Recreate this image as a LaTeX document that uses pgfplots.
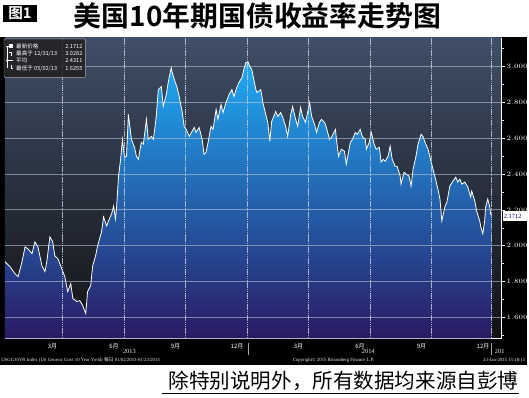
\documentclass[border=0pt]{standalone}
\usepackage{pgfplots}
\pgfplotsset{compat=1.18}
\usepackage{fontspec}
\setmainfont{Liberation Serif}
\newfontfamily\cjk{Noto Sans CJK SC}
\newfontfamily\cjkb{Noto Sans CJK SC Bold}
\definecolor{bgtop}{RGB}{63,78,103}
\definecolor{bgmid}{RGB}{37,40,46}
\definecolor{bgbot}{RGB}{18,18,20}
\definecolor{filltop}{RGB}{30,170,245}
\definecolor{fillmid}{RGB}{44,100,190}
\definecolor{fillbot}{RGB}{42,26,100}
\definecolor{gridc}{RGB}{200,208,225}
\tikzset{gridl/.style={draw=gridc, opacity=0.8, dash pattern=on 1.2pt off 0.45pt, line width=0.9pt},
  gridh/.style={draw=gridc, opacity=0.55, line width=0.75pt}}
\pgfplotstableread{
m v
0.18 1.911
0.43 1.883
0.67 1.844
0.82 1.828
1.01 1.911
1.16 1.994
1.30 1.983
1.50 1.956
1.64 2.022
1.79 1.994
1.98 1.889
2.13 1.856
2.22 1.911
2.37 2.050
2.51 2.022
2.61 1.944
2.76 1.928
2.95 1.872
3.10 1.828
3.24 1.744
3.39 1.789
3.49 1.706
3.68 1.689
3.83 1.694
3.97 1.667
4.12 1.622
4.21 1.744
4.36 1.778
4.46 1.889
4.60 1.944
4.70 2.000
4.89 2.078
4.99 2.161
5.14 2.111
5.23 2.139
5.38 2.178
5.48 2.222
5.57 2.150
5.62 2.206
5.72 2.389
5.82 2.483
5.91 2.594
6.01 2.494
6.11 2.500
6.20 2.733
6.35 2.594
6.50 2.550
6.59 2.500
6.69 2.483
6.83 2.578
6.93 2.567
7.08 2.706
7.17 2.594
7.32 2.611
7.42 2.594
7.56 2.722
7.66 2.872
7.81 2.889
7.90 2.778
8.05 2.844
8.15 2.917
8.29 2.994
8.34 2.967
8.49 2.911
8.58 2.883
8.68 2.833
8.83 2.744
8.92 2.667
9.02 2.650
9.17 2.611
9.31 2.639
9.41 2.661
9.50 2.633
9.65 2.661
9.80 2.594
9.89 2.511
9.99 2.522
10.09 2.578
10.23 2.667
10.33 2.650
10.48 2.761
10.57 2.706
10.72 2.789
10.82 2.744
10.96 2.800
11.11 2.844
11.25 2.872
11.35 2.833
11.45 2.872
11.59 2.911
11.74 2.939
11.83 2.983
11.93 3.022
12.03 3.028
12.13 3.000
12.22 2.983
12.32 2.928
12.42 2.872
12.47 2.856
12.66 2.872
12.76 2.800
12.90 2.733
13.00 2.689
13.10 2.583
13.19 2.694
13.39 2.750
13.49 2.722
13.63 2.744
13.73 2.717
13.87 2.667
13.97 2.611
14.12 2.733
14.21 2.778
14.36 2.706
14.46 2.667
14.60 2.772
14.70 2.722
14.84 2.689
14.94 2.744
15.04 2.800
15.14 2.722
15.28 2.678
15.38 2.633
15.52 2.689
15.62 2.706
15.77 2.689
15.86 2.661
16.01 2.594
16.11 2.606
16.30 2.650
16.35 2.594
16.45 2.500
16.59 2.539
16.74 2.528
16.83 2.456
17.03 2.578
17.13 2.594
17.27 2.633
17.37 2.622
17.51 2.650
17.61 2.611
17.76 2.594
17.81 2.539
17.95 2.578
18.05 2.633
18.19 2.567
18.29 2.539
18.44 2.550
18.53 2.467
18.63 2.483
18.73 2.472
18.87 2.500
18.97 2.556
19.07 2.483
19.21 2.444
19.31 2.444
19.46 2.389
19.50 2.344
19.65 2.411
19.75 2.400
19.89 2.389
19.99 2.333
20.09 2.428
20.23 2.500
20.33 2.567
20.48 2.622
20.57 2.611
20.67 2.578
20.82 2.539
20.96 2.472
21.06 2.428
21.16 2.383
21.30 2.317
21.40 2.261
21.49 2.139
21.64 2.217
21.74 2.244
21.88 2.333
22.03 2.361
22.17 2.383
22.27 2.356
22.37 2.372
22.47 2.344
22.61 2.356
22.76 2.328
22.90 2.272
22.95 2.306
23.10 2.250
23.19 2.194
23.34 2.139
23.39 2.106
23.49 2.067
23.58 2.139
23.63 2.217
23.73 2.261
23.83 2.217
23.87 2.178
23.92 2.171
}\yields
\begin{document}
\begin{tikzpicture}
\begin{scope}[x=0.75pt,y=-0.75pt]
\useasboundingbox (0,0) rectangle (529,399);
\fill[white] (0,0) rectangle (529,399);
\fill[black] (0,37) rectangle (529,367);
% title
\fill[black] (3,5) rectangle (37,22);
\node[anchor=center, text=white, font=\cjkb\fontsize{11}{11}\selectfont, inner sep=0] at (20,13.5) {图1};
\node[anchor=west, font=\cjkb\fontsize{21}{21}\selectfont, inner sep=0] at (74,16) {美国10年期国债收益率走势图};
% bottom note
\node[anchor=east, font=\cjk\fontsize{15.5}{16}\selectfont, inner sep=0] at (521,383) {除特别说明外，所有数据均来源自彭博};
\draw[line width=0.6pt] (163,395) -- (521,395);
\end{scope}

\begin{axis}[
  at={(3.75pt,-255pt)}, anchor=south west,
  scale only axis, width=374.25pt, height=226.5pt,
  xmin=0.18, xmax=24.41, ymin=1.483, ymax=3.161,
  axis background/.style={top color=bgtop, middle color=bgmid, bottom color=bgbot},
  axis x line*=bottom, axis y line*=right,
  axis line style={white, line width=0.6pt},
  xtick={2.5,5.5,8.5,11.5,14.5,17.5,20.5,23.5},
  xticklabels={3月,6月,9月,12月,3月,6月,9月,12月},
  major x tick style={draw=none},
  xticklabel style={text=white, font=\cjk\fontsize{4.5}{5}\selectfont, inner sep=0.5pt, yshift=-1pt},
  extra x ticks={1,2,3,4,5,6,7,8,9,10,11,12,13,14,15,16,17,18,19,20,21,22,23,24},
  extra x tick labels={},
  extra x tick style={major tick length=2pt, tick align=outside, major x tick style={white, line width=0.5pt}},
  ytick={1.6,1.8,2.0,2.2,2.4,2.6,2.8,3.0},
  minor ytick={1.5,1.7,1.9,2.1,2.3,2.5,2.7,2.9,3.1},
  y tick style={white, line width=0.5pt},
  tick align=outside,
  major tick length=2.5pt, minor tick length=1.5pt,
  yticklabel pos=right,
  yticklabel style={text=white, font=\fontsize{4.5}{5}\selectfont, inner sep=1pt,
    /pgf/number format/.cd, fixed, zerofill, precision=3},
]
\addplot[draw=none, top color=filltop, middle color=fillmid, bottom color=fillbot] table[x=m, y=v] {\yields}
  -- (axis cs:23.92,1.483) -- (axis cs:0.18,1.483) -- cycle;
\addplot[white, line width=0.6pt] table[x=m, y=v] {\yields};
\draw[gridh] (axis cs:0.18,1.6) -- (axis cs:24.41,1.6);
\draw[gridh] (axis cs:0.18,1.8) -- (axis cs:24.41,1.8);
\draw[gridh] (axis cs:0.18,2.0) -- (axis cs:24.41,2.0);
\draw[gridh] (axis cs:0.18,2.2) -- (axis cs:24.41,2.2);
\draw[gridh] (axis cs:0.18,2.4) -- (axis cs:24.41,2.4);
\draw[gridh] (axis cs:0.18,2.6) -- (axis cs:24.41,2.6);
\draw[gridh] (axis cs:0.18,2.8) -- (axis cs:24.41,2.8);
\draw[gridh] (axis cs:0.18,3.0) -- (axis cs:24.41,3.0);
\pgfplotsinvokeforeach{3,6,9,12,15,18,21,23.92}{
  \draw[gridl] (axis cs:#1,1.483) -- (axis cs:#1,3.161);
}
\end{axis}

\begin{scope}[x=0.75pt,y=-0.75pt]
% legend box
\fill[rounded corners=1.5pt, fill=black!75!gray, opacity=0.85] (4,39) rectangle (86,78);
\draw[rounded corners=1.5pt, gray!60, line width=0.3pt] (4,39) rectangle (86,78);
\fill[white] (9,44.5) rectangle (13,48.5);
\draw[white, line width=0.35pt] (6,46.5) -- (9,46.5);
\draw[white, line width=0.35pt] (7,47) -- (7,68);
\draw[white, line width=0.35pt] (9.5,52) -- (12.5,52) (11,52) -- (11,56);
\draw[white, line width=0.35pt] (6,61) -- (13,61);
\fill[white] (7,61) circle (1);
\draw[white, line width=0.35pt] (11,65) -- (11,69) -- (13,69);
\begin{scope}[every node/.style={inner sep=0, text=white, font=\cjk\fontsize{4.2}{5}\selectfont}]
\node[anchor=west] at (16,46.5) {最新价格};
\node[anchor=west] at (16,54) {最高于 12/31/13};
\node[anchor=west] at (16,61) {平均};
\node[anchor=west] at (16,68.5) {最低于 05/02/13};
\node[anchor=east] at (83,46.5) {2.1712};
\node[anchor=east] at (83,54) {3.0282};
\node[anchor=east] at (83,61) {2.4311};
\node[anchor=east] at (83,68.5) {1.6255};
\end{scope}
% last value tag
\fill[white] (505,212) rectangle (529,222);
\node[anchor=west, inner sep=0, text=blue!40!black, font=\fontsize{4.8}{5}\selectfont] at (506,217) {2.1712};
% years and footer
\begin{scope}[every node/.style={inner sep=0, text=white!85!gray}]
\node[font=\fontsize{4.8}{5}\selectfont] at (130,353) {2013};
\node[font=\fontsize{4.8}{5}\selectfont] at (370,353) {2014};
\node[anchor=west, font=\fontsize{4.8}{5}\selectfont] at (497,353) {201};
\draw[gray!70, line width=0.5pt] (249,345) -- (249,357);
\draw[gray!70, line width=0.5pt] (494,345) -- (494,357);
\node[anchor=west, font=\fontsize{3.6}{4}\selectfont] at (1,362) {USGG10YR Index (US Generic Govt 10 Year Yield) {\cjk 每日} 01/02/2013-01/23/2015};
\node[font=\fontsize{3.6}{4}\selectfont] at (335,362) {Copyright\textcopyright\ 2015 Bloomberg Finance L.P.};
\node[anchor=east, font=\fontsize{3.6}{4}\selectfont] at (528,362) {23-Jan-2015 15:18:15};
\end{scope}
\end{scope}
\end{tikzpicture}
\end{document}
